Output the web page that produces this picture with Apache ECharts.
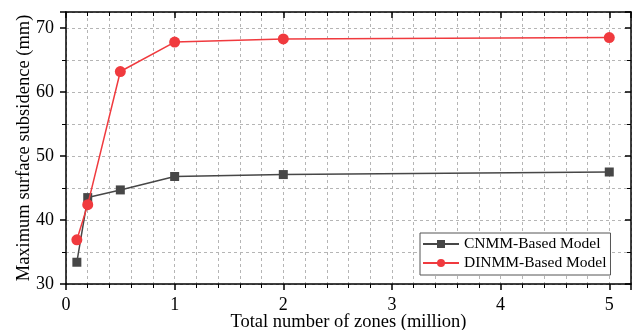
<!DOCTYPE html>
<html><head><meta charset="utf-8">
<script src="https://cdn.jsdelivr.net/npm/echarts@6/dist/echarts.min.js"></script>
<style>html,body{margin:0;padding:0;background:#fff}#c{width:638px;height:330px}</style>
</head><body><div id="c"></div>
<script>
const zones = [0.1, 0.2, 0.5, 1, 2, 5];
const cnmm = [33.4, 43.5, 44.7, 46.8, 47.1, 47.5];
const dinmm = [36.9, 42.4, 63.2, 67.8, 68.3, 68.5];
const seriesNames = ['CNMM-Based Model', 'DINMM-Based Model'];
const FONT = 'Liberation Serif';
const chart = echarts.init(document.getElementById('c'), null, {renderer: 'canvas'});
const gridDash = {show: true, lineStyle: {color: '#b5b5b5', type: [3, 3], width: 1}};
const axisLine = {show: true, onZero: false, lineStyle: {color: '#000', width: 1.5}};
chart.setOption({
  animation: false,
  textStyle: {fontFamily: FONT},
  grid: {left: 66, right: 7, top: 12, bottom: 46, containLabel: false, outerBoundsMode: 'none'},
  legend: {
    data: seriesNames, orient: 'vertical', left: 420, top: 233,
    itemWidth: 36, itemHeight: 10, itemGap: 3,
    padding: [3, 4, 4, 2],
    borderColor: '#555', borderWidth: 1, backgroundColor: '#fff',
    textStyle: {fontFamily: FONT, fontSize: 15.5, color: '#000', lineHeight: 16}
  },
  xAxis: [{
    type: 'value', min: 0, max: 5.2, interval: 1, position: 'bottom',
    name: 'Total number of zones (million)', nameLocation: 'middle', nameGap: 29,
    nameMoveOverlap: false,
    nameTextStyle: {fontFamily: FONT, fontSize: 18.5, color: '#000'},
    axisLine: axisLine,
    axisTick: {show: true, inside: false, length: 6, lineStyle: {color: '#000', width: 1.5}},
    minorTick: {show: true, splitNumber: 5, length: 4, lineStyle: {color: '#000', width: 1}},
    axisLabel: {fontFamily: FONT, fontSize: 18, color: '#000', margin: 12,
      formatter: v => (Math.abs(v - Math.round(v)) < 1e-9 ? String(Math.round(v)) : '')},
    splitLine: gridDash, minorSplitLine: gridDash
  }, {
    type: 'value', min: 0, max: 5.2, interval: 1, position: 'top',
    axisLine: axisLine,
    axisTick: {show: true, inside: true, length: 6, lineStyle: {color: '#000', width: 1.5}},
    minorTick: {show: true, splitNumber: 5, length: 4, lineStyle: {color: '#000', width: 1}},
    axisLabel: {show: false}, splitLine: {show: false}
  }],
  yAxis: [{
    type: 'value', min: 30, max: 72.5, interval: 10, position: 'left',
    name: 'Maximum surface subsidence (mm)', nameLocation: 'middle', nameGap: 32,
    nameMoveOverlap: false,
    nameTextStyle: {fontFamily: FONT, fontSize: 18.5, color: '#000'},
    axisLine: axisLine,
    axisTick: {show: true, inside: false, length: 6, lineStyle: {color: '#000', width: 1.5}},
    minorTick: {show: true, splitNumber: 2, length: 4, lineStyle: {color: '#000', width: 1}},
    axisLabel: {fontFamily: FONT, fontSize: 18, color: '#000', margin: 12,
      formatter: v => (v % 10 === 0 ? String(v) : '')},
    splitLine: gridDash, minorSplitLine: gridDash
  }, {
    type: 'value', min: 30, max: 72.5, interval: 10, position: 'right',
    axisLine: axisLine,
    axisTick: {show: true, inside: true, length: 6, lineStyle: {color: '#000', width: 1.5}},
    minorTick: {show: true, splitNumber: 2, length: 4, lineStyle: {color: '#000', width: 1}},
    axisLabel: {show: false}, splitLine: {show: false}
  }],
  series: [{
    name: seriesNames[0], type: 'line',
    data: zones.map((x, i) => [x, cnmm[i]]),
    symbol: 'rect', symbolSize: 9,
    itemStyle: {color: '#474747'}, lineStyle: {color: '#474747', width: 1.5}, z: 3
  }, {
    name: seriesNames[1], type: 'line',
    data: zones.map((x, i) => [x, dinmm[i]]),
    symbol: 'circle', symbolSize: 11,
    itemStyle: {color: '#f03a3e'}, lineStyle: {color: '#f03a3e', width: 1.5}, z: 4
  }]
});
</script></body></html>
